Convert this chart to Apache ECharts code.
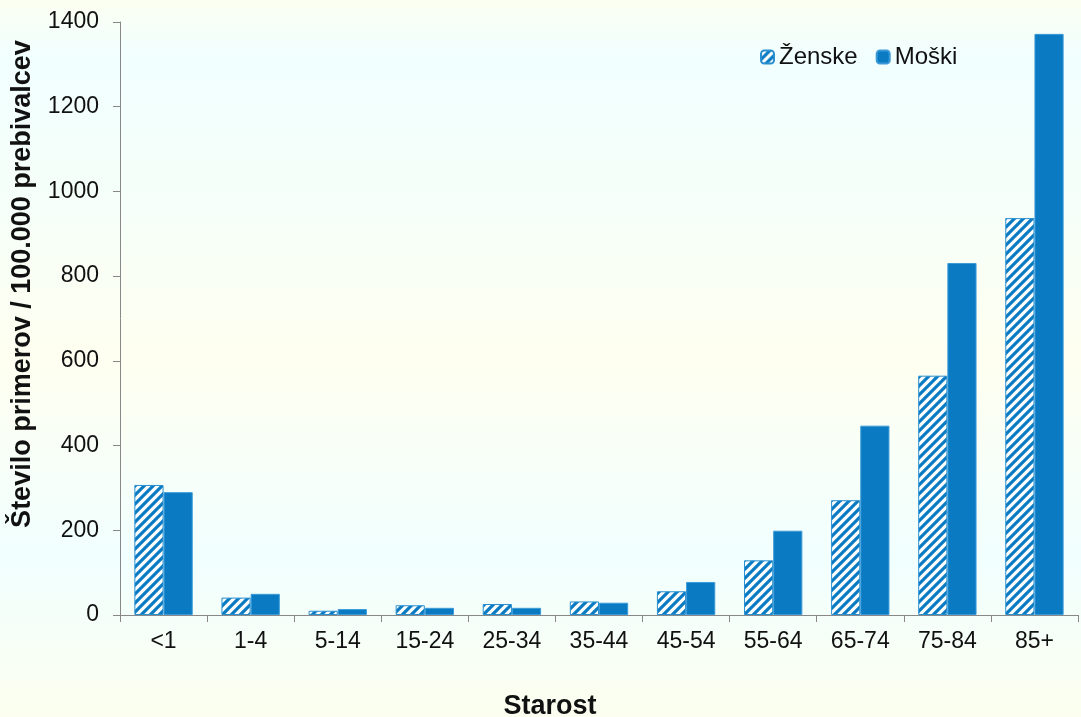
<!DOCTYPE html>
<html>
<head>
<meta charset="utf-8">
<script src="https://cdn.jsdelivr.net/npm/echarts@6/dist/echarts.min.js"></script>
<style>
html,body{margin:0;padding:0;width:1081px;height:717px;overflow:hidden;}
#chart{width:1081px;height:717px;}
</style>
</head>
<body>
<div id="chart"></div>
<script>
var categories = ['<1','1-4','5-14','15-24','25-34','35-44','45-54','55-64','65-74','75-84','85+'];
var zenske = [307, 41, 10, 23, 26, 32, 56, 129, 271, 565, 937];
var moski  = [290, 50, 14, 17, 17, 29, 78, 199, 447, 831, 1372];
var seriesNames = ['Ženske', 'Moški'];
var yTitle = 'Število primerov / 100.000 prebivalcev';
var xTitle = 'Starost';

var BLUE = '#0A7BC3';
var FONT = '"Liberation Sans", Arial, sans-serif';

function stripePattern(){
  var c = document.createElement('canvas');
  var s = 9;
  c.width = s; c.height = s;
  var ctx = c.getContext('2d');
  ctx.fillStyle = '#ffffff';
  ctx.fillRect(0,0,s,s);
  ctx.strokeStyle = BLUE;
  ctx.lineWidth = 3.2;
  ctx.beginPath();
  ctx.moveTo(-s, 2*s); ctx.lineTo(2*s, -s);
  ctx.moveTo(-2*s, 2*s); ctx.lineTo(s, -s);
  ctx.moveTo(0, 2*s); ctx.lineTo(3*s, -s);
  ctx.stroke();
  return c;
}

var chart = echarts.init(document.getElementById('chart'), null, {renderer:'canvas'});
var option = {
  backgroundColor: {
    type:'linear', x:0, y:0, x2:0, y2:1,
    colorStops:[
      {offset:0, color:'#fbfff1'},
      {offset:0.08, color:'#f1ffff'},
      {offset:0.3, color:'#f6fff8'},
      {offset:0.5, color:'#fefff0'},
      {offset:0.78, color:'#f1ffff'},
      {offset:1, color:'#fcffef'}
    ]
  },
  animation:false,
  textStyle:{fontFamily:FONT},
  grid:{left:120, right:3, top:22, bottom:102, containLabel:false},
  legend:{
    left:755, top:40,
    itemWidth:13, itemHeight:13, itemGap:18,
    textStyle:{fontSize:24, color:'#111', fontFamily:FONT},
    data:seriesNames
  },
  xAxis:{
    type:'category',
    data:categories,
    axisLine:{lineStyle:{color:'#888', width:1}},
    axisTick:{show:true, length:7, lineStyle:{color:'#888'}},
    axisLabel:{color:'#111', fontSize:23, margin:15, fontFamily:FONT, interval:0},
    splitLine:{show:false}
  },
  yAxis:{
    type:'value',
    min:0, max:1400, interval:200,
    axisLine:{show:true, lineStyle:{color:'#888', width:1}},
    axisTick:{show:true, length:7, lineStyle:{color:'#888'}},
    axisLabel:{color:'#111', fontSize:23, margin:21, fontFamily:FONT,
      formatter:function(v){return String(v);}},
    splitLine:{show:false}
  },
  graphic:[
    {
      type:'text',
      x:23, y:284, rotation:Math.PI/2,
      style:{text:yTitle, font:'bold 27px "Liberation Sans", Arial, sans-serif', fill:'#111',
        textAlign:'center', textVerticalAlign:'middle'}
    },
    {
      type:'text',
      x:550, y:707,
      style:{text:xTitle, font:'bold 27px "Liberation Sans", Arial, sans-serif', fill:'#111',
        textAlign:'center', textVerticalAlign:'middle'}
    }
  ],
  series:[
    {
      name:seriesNames[0], type:'bar', data:zenske,
      barGap:'0%', barCategoryGap:'33%',
      itemStyle:{color:{image:stripePattern(), repeat:'repeat'}, borderColor:'#2a8fd0', borderWidth:1}
    },
    {
      name:seriesNames[1], type:'bar', data:moski,
      itemStyle:{color:BLUE, borderColor:'#3a9ad8', borderWidth:1}
    }
  ]
};
chart.setOption(option);
</script>
</body>
</html>
